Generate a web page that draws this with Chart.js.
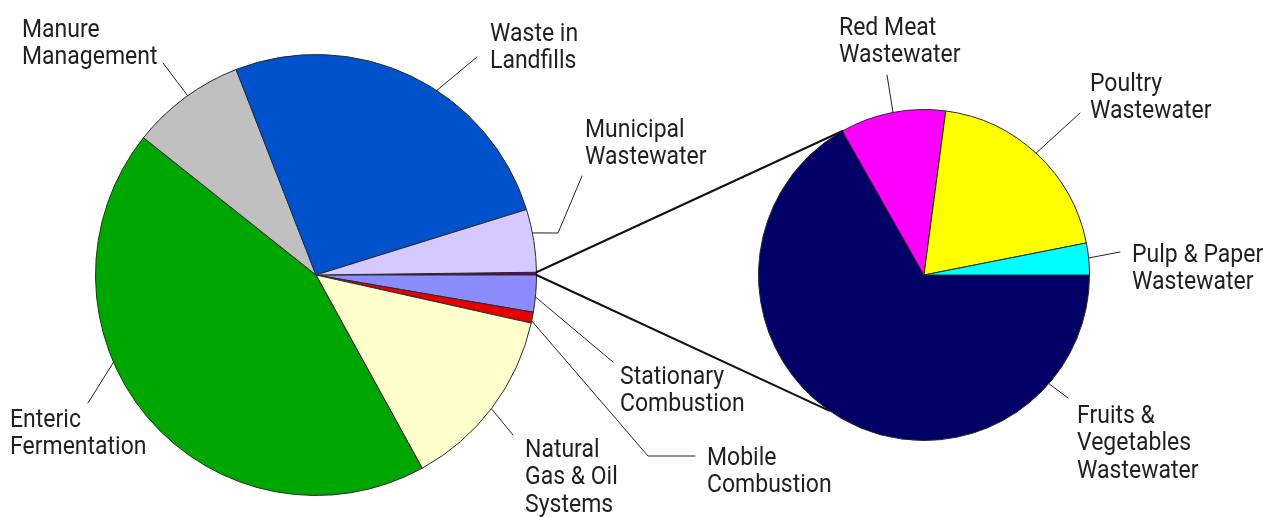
<!DOCTYPE html>
<html>
<head>
<meta charset="utf-8">
<script src="https://cdn.jsdelivr.net/npm/chart.js@4.4.0/dist/chart.umd.min.js"></script>
<style>
  html, body { margin: 0; padding: 0; background: #ffffff; }
  #wrap { position: relative; width: 1277px; height: 517px; overflow: hidden; background: #fff; }
  canvas { position: absolute; }
  #left { left: 95px; top: 54px; }
  #right { left: 758px; top: 109px; }
  #overlay { left: 0; top: 0; pointer-events: none; }
</style>
</head>
<body>
<div id="wrap">
  <canvas id="left" width="442" height="442"></canvas>
  <canvas id="right" width="332" height="332"></canvas>
  <canvas id="overlay" width="1277" height="517"></canvas>
</div>
<script>
// ---- Data (percent shares) ----
const mainCategories = [
  "Industrial Wastewater",
  "Stationary Combustion",
  "Mobile Combustion",
  "Natural Gas & Oil Systems",
  "Enteric Fermentation",
  "Manure Management",
  "Waste in Landfills",
  "Municipal Wastewater"
];
const mainValues = [0.2, 2.7, 0.8, 13.5, 43.7, 8.4, 26.1, 4.6];
const mainColors = ["#660066", "#8c8cff", "#e60000", "#ffffcc", "#00a600", "#c0c0c0", "#0052cc", "#d4caff"];

const subCategories = [
  "Fruits & Vegetables Wastewater",
  "Red Meat Wastewater",
  "Poultry Wastewater",
  "Pulp & Paper Wastewater"
];
const subValues = [66.8, 10.3, 19.8, 3.1];
const subColors = ["#000066", "#ff00ff", "#ffff00", "#00ffff"];

// ---- Label layout (annotation positions, not data) ----
const labelLayout = [
  { chart: "main", idx: 5, lines: ["Manure", "Management"], x: 22, y: 37, leader: [[163, 63]], angle: 125.6 },
  { chart: "main", idx: 6, lines: ["Waste in", "Landfills"], x: 490, y: 41, leader: [[477, 57]], angle: 56.8 },
  { chart: "main", idx: 7, lines: ["Municipal", "Wastewater"], x: 585, y: 137, leader: [[582, 176], [558, 233]], angle: 11 },
  { chart: "main", idx: 1, lines: ["Stationary", "Combustion"], x: 620, y: 384, leader: [[613, 362]], angle: -5.7 },
  { chart: "main", idx: 2, lines: ["Mobile", "Combustion"], x: 707, y: 465, leader: [[695, 456], [648, 456]], angle: -12 },
  { chart: "main", idx: 3, lines: ["Natural", "Gas & Oil", "Systems"], x: 525, y: 457, leader: [[513, 435]], angle: -37.3 },
  { chart: "main", idx: 4, lines: ["Enteric", "Fermentation"], x: 10, y: 427, leader: [[88, 403]], angle: -156.7 },
  { chart: "sub", idx: 1, lines: ["Red Meat", "Wastewater"], x: 839, y: 35, leader: [[887, 75]], angle: 100.8 },
  { chart: "sub", idx: 2, lines: ["Poultry", "Wastewater"], x: 1090, y: 91, leader: [[1080, 113]], angle: 47.4 },
  { chart: "sub", idx: 3, lines: ["Pulp & Paper", "Wastewater"], x: 1132, y: 262, leader: [[1120, 252]], angle: 5.9 },
  { chart: "sub", idx: 0, lines: ["Fruits &", "Vegetables", "Wastewater"], x: 1077, y: 423, leader: [[1068, 398]], angle: -41 }
];
const lineHeight = 27.4;
const textStretchY = 1.1;
const lowerConnectorAngle = 235; // degrees (math) on the sub pie

function pieConfig(labels, values, colors, rotation) {
  return {
    type: "pie",
    data: {
      labels: labels,
      datasets: [{
        data: values,
        backgroundColor: colors,
        borderColor: "#2a2a2a",
        borderWidth: 1,
        hoverOffset: 0,
        offset: 0
      }]
    },
    options: {
      responsive: false,
      animation: false,
      devicePixelRatio: 1,
      rotation: rotation,
      layout: { padding: 0 },
      plugins: { legend: { display: false }, tooltip: { enabled: false } },
      events: []
    }
  };
}

const sumMain = mainValues.reduce((a, b) => a + b, 0);
const mainChart = new Chart(document.getElementById("left"),
  pieConfig(mainCategories, mainValues, mainColors, 90 - mainValues[0] / sumMain * 360));
const subChart = new Chart(document.getElementById("right"),
  pieConfig(subCategories, subValues, subColors, 90));

function geom(chart, canvasId) {
  const el = document.getElementById(canvasId);
  const arcs = chart.getDatasetMeta(0).data;
  const a0 = arcs[0];
  return { cx: a0.x + el.offsetLeft, cy: a0.y + el.offsetTop, r: a0.outerRadius, arcs: arcs };
}
function polar(g, angleRad) {
  return [g.cx + g.r * Math.cos(angleRad), g.cy + g.r * Math.sin(angleRad)];
}

function drawOverlay() {
  const gm = geom(mainChart, "left");
  const gs = geom(subChart, "right");
  const ctx = document.getElementById("overlay").getContext("2d");
  ctx.clearRect(0, 0, 1277, 517);

  // connector lines from the exploded slice to the sub pie
  const slice = gm.arcs[0];
  const pA = polar(gm, slice.startAngle);
  const pB = polar(gm, slice.endAngle);
  const qA = polar(gs, gs.arcs[1].startAngle);
  const qB = polar(gs, -lowerConnectorAngle * Math.PI / 180);
  ctx.strokeStyle = "#111";
  ctx.lineWidth = 2;
  ctx.lineCap = "round";
  ctx.beginPath();
  ctx.moveTo(pA[0], pA[1]); ctx.lineTo(qA[0], qA[1]);
  ctx.moveTo(pB[0], pB[1]); ctx.lineTo(qB[0], qB[1]);
  ctx.stroke();

  // leader lines
  ctx.lineWidth = 1;
  ctx.strokeStyle = "#222";
  labelLayout.forEach(l => {
    const g = l.chart === "main" ? gm : gs;
    const end = polar(g, -l.angle * Math.PI / 180);
    ctx.beginPath();
    ctx.moveTo(l.leader[0][0], l.leader[0][1]);
    for (let i = 1; i < l.leader.length; i++) ctx.lineTo(l.leader[i][0], l.leader[i][1]);
    ctx.lineTo(end[0], end[1]);
    ctx.stroke();
  });

  // label text
  ctx.fillStyle = "#231f20";
  ctx.font = "23px Roboto, 'Noto Sans', sans-serif";
  ctx.textAlign = "left";
  ctx.textBaseline = "alphabetic";
  labelLayout.forEach(l => {
    l.lines.forEach((t, i) => {
      const by = l.y + i * lineHeight;
      ctx.save();
      ctx.translate(l.x, by);
      ctx.scale(1, textStretchY);
      ctx.fillText(t, 0, 0);
      ctx.restore();
    });
  });
}
if (document.fonts && document.fonts.load) {
  document.fonts.load("23px Roboto").then(drawOverlay, drawOverlay);
} else {
  drawOverlay();
}
</script>
</body>
</html>
